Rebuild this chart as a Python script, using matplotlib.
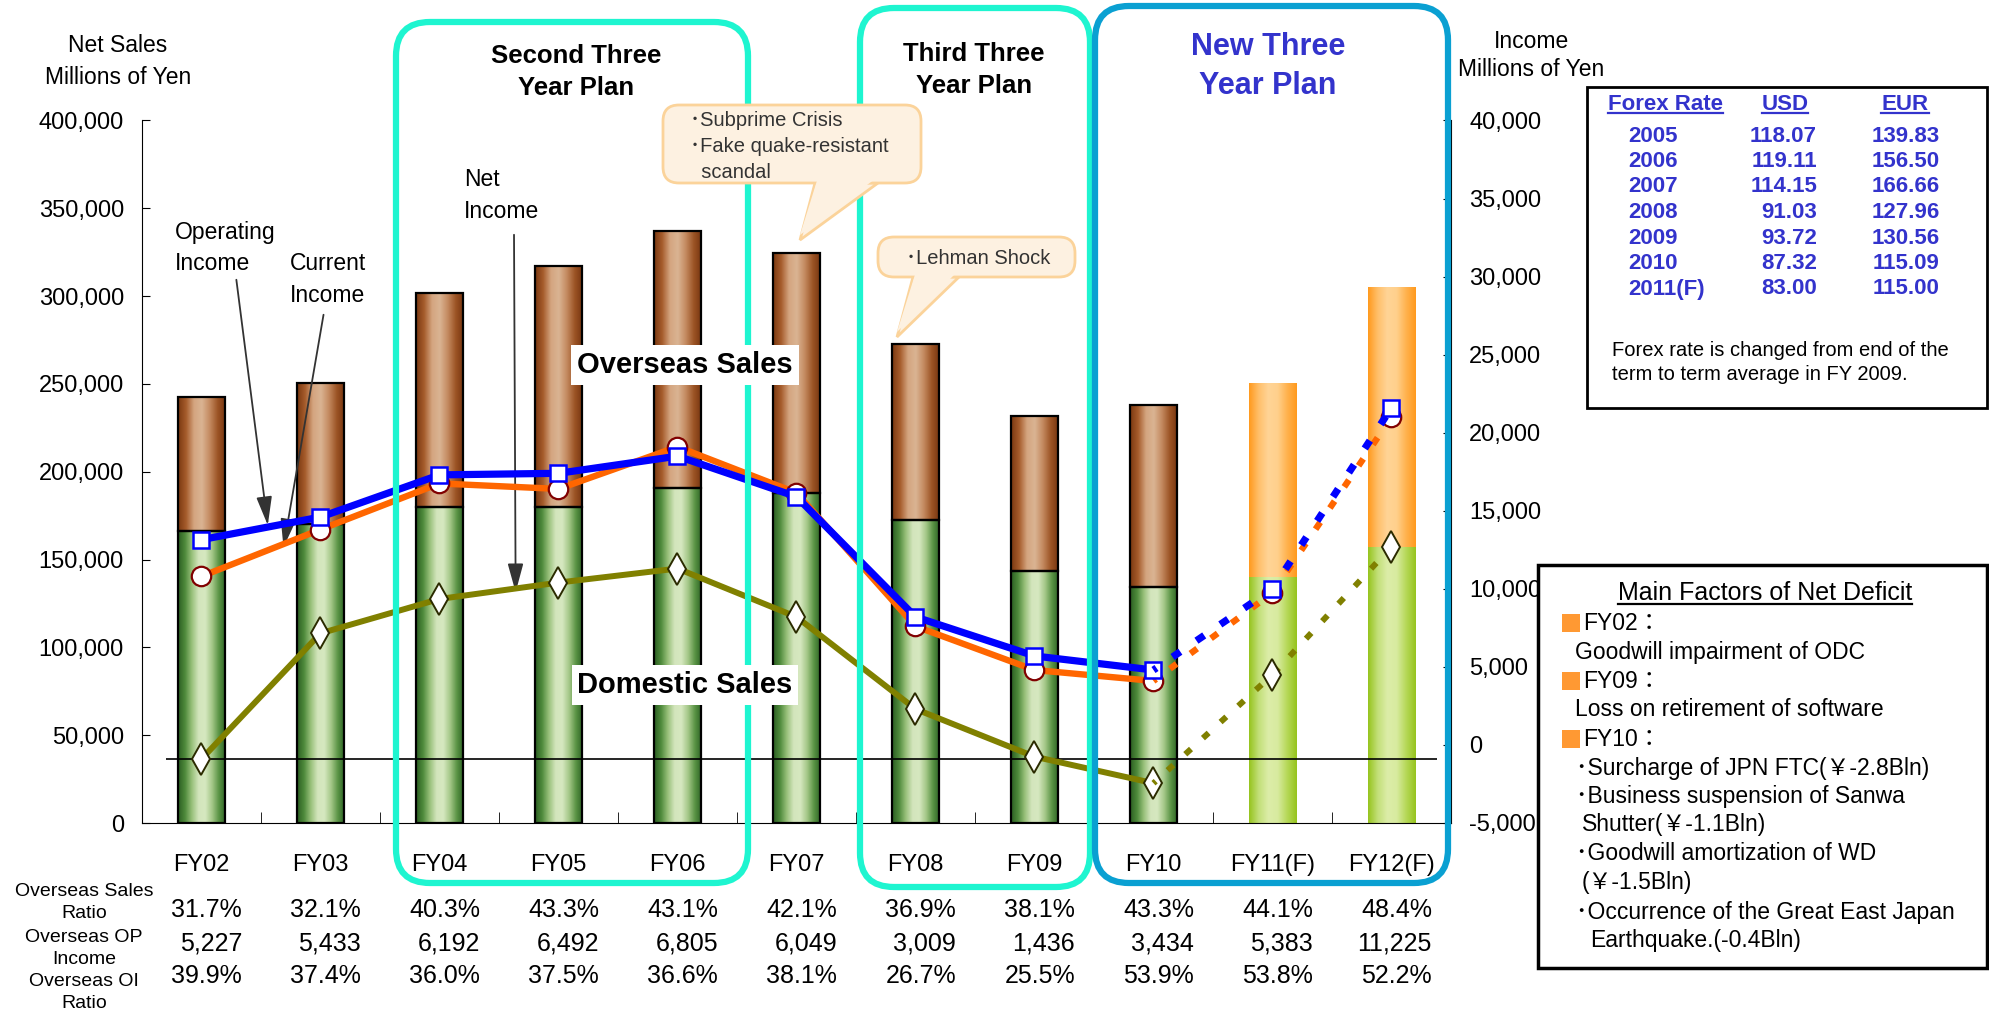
import numpy as np
import matplotlib.pyplot as plt
from matplotlib.colors import LinearSegmentedColormap
from matplotlib.patches import FancyBboxPatch, Polygon, Rectangle
from matplotlib.lines import Line2D
from matplotlib.ticker import MultipleLocator, FixedLocator, FuncFormatter
from matplotlib.transforms import Affine2D, blended_transform_factory

plt.rcParams['font.family'] = ['Liberation Sans', 'Noto Sans CJK JP', 'DejaVu Sans']

# ---- data ----
years = ['FY02', 'FY03', 'FY04', 'FY05', 'FY06', 'FY07', 'FY08', 'FY09', 'FY10', 'FY11(F)', 'FY12(F)']
domestic = [166000, 170000, 180000, 180000, 191000, 188000, 172500, 143500, 134500, 140000, 157200]
overseas = [76500, 80300, 121500, 137000, 146000, 136500, 100500, 88500, 103500, 110300, 147800]
op_income = [13150, 14600, 17300, 17400, 18500, 15900, 8200, 5700, 4800, 10000, 21600]
cur_income = [10800, 13800, 16750, 16400, 19100, 16150, 7600, 4800, 4100, 9750, 21000]
net_income = [-900, 7150, 9350, 10400, 11300, 8200, 2300, -750, -2450, 4500, 12700]
n_actual = 9  # FY02..FY10 are results, the rest forecasts

ovs_sales_ratio = [31.7, 32.1, 40.3, 43.3, 43.1, 42.1, 36.9, 38.1, 43.3, 44.1, 48.4]
ovs_op_income = [5227, 5433, 6192, 6492, 6805, 6049, 3009, 1436, 3434, 5383, 11225]
ovs_oi_ratio = [39.9, 37.4, 36.0, 37.5, 36.6, 38.1, 26.7, 25.5, 53.9, 53.8, 52.2]

fx_years = ['2005', '2006', '2007', '2008', '2009', '2010', '2011(F)']
fx_usd = [118.07, 119.11, 114.15, 91.03, 93.72, 87.32, 83.00]
fx_eur = [139.83, 156.50, 166.66, 127.96, 130.56, 115.09, 115.00]

W, H = 1989, 1013
fig = plt.figure(figsize=(W / 100, H / 100), dpi=100)
# pixel coords measured from the top-left corner
px = Affine2D().scale(0.01, -0.01).translate(0, H * 0.01) + fig.dpi_scale_trans

ax = fig.add_axes([142 / W, 1 - 823 / H, (1451 - 142) / W, (823 - 120.5) / H])
ax2 = ax.twinx()

brown = LinearSegmentedColormap.from_list('b', ['#7a3810', '#a65c2c', '#d4a580', '#dab493', '#c48a60', '#9c5425', '#763510'])
green = LinearSegmentedColormap.from_list('g', ['#2b5e22', '#4e8a3b', '#98c07a', '#d3e5bc', '#d6e8c0', '#a4c788', '#5a9445', '#2c6224'])
orange = LinearSegmentedColormap.from_list('o', ['#ff9a1e', '#ffbf6a', '#ffd496', '#ffd08c', '#ffb24e', '#ff9a1e'])
lime = LinearSegmentedColormap.from_list('l', ['#96c41e', '#c2df78', '#dceda8', '#d8eba0', '#b6d858', '#96c41e'])

x = np.arange(len(years))
bw = 0.4
grad = np.linspace(0, 1, 128)[None, :]
for i in x:
    cm_d = green if i < n_actual else lime
    cm_o = brown if i < n_actual else orange
    ax.imshow(grad, cmap=cm_d, aspect='auto', interpolation='bilinear', zorder=2,
              extent=(i - bw / 2, i + bw / 2, 0, domestic[i]))
    ax.imshow(grad, cmap=cm_o, aspect='auto', interpolation='bilinear', zorder=2,
              extent=(i - bw / 2, i + bw / 2, domestic[i], domestic[i] + overseas[i]))
ax.bar(x[:n_actual], domestic[:n_actual], bw, fill=False, edgecolor='black', lw=1.6, zorder=3)
ax.bar(x[:n_actual], overseas[:n_actual], bw, bottom=domestic[:n_actual], fill=False,
       edgecolor='black', lw=1.6, zorder=3)
ax.hlines(36300, -0.3, 10.38, color='black', lw=1.2, zorder=3)

ax.set_xlim(-0.5, 10.5)
ax.set_ylim(0, 400000)
ax2.set_ylim(-5000, 40000)

# income lines
styles = [
    (op_income, dict(color='#0000ff', lw=5.2), dict(marker='s', ms=11, mfc='white', mec='#0000ff', mew=1.8)),
    (cur_income, dict(color='#ff6600', lw=4.6), dict(marker='o', ms=14, mfc='white', mec='#800000', mew=1.6)),
    (net_income, dict(color='#808000', lw=4.3), dict(marker='d', ms=16, mfc='white', mec='#2b2b00', mew=1.4)),
]
for z, (vals, ls, mk) in enumerate(styles):
    ax2.plot(x[:n_actual], vals[:n_actual], zorder=6 - z, **ls, **mk)
    ax2.plot(x[n_actual - 1:], vals[n_actual - 1:], ls=(0.8, (1.3, 2.7)), zorder=6 - z, **ls)
    ax2.plot(x[n_actual:], vals[n_actual:], ls='none', zorder=6 - z, **mk)

fmt = FuncFormatter(lambda v, p: f'{v:,.0f}')
ax.yaxis.set_major_locator(MultipleLocator(50000))
ax.yaxis.set_major_formatter(fmt)
ax2.yaxis.set_major_locator(MultipleLocator(5000))
ax2.yaxis.set_major_formatter(fmt)
ax.tick_params(axis='y', direction='in', length=6, labelsize=17, pad=13)
ax2.tick_params(axis='y', direction='in', length=6, labelsize=17, pad=13)
ax.set_xticks(x, years)
ax.tick_params(axis='x', length=0, labelsize=17, pad=22)
ax.xaxis.set_minor_locator(FixedLocator(np.arange(0.5, 10, 1)))
ax.tick_params(axis='x', which='minor', direction='in', length=8)
for s in ['top', 'right']:
    ax.spines[s].set_visible(False)
for s in ['top', 'left', 'bottom']:
    ax2.spines[s].set_visible(False)


def ftext(xp, yp, s, **kw):
    kw.setdefault('ha', 'center')
    kw.setdefault('va', 'center')
    return fig.text(xp, yp, s, transform=px, **kw)


# axis titles
ftext(118, 45, 'Net Sales', fontsize=16.5)
ftext(118, 78, 'Millions of Yen', fontsize=16.5)
ftext(1532, 42, 'Income', fontsize=16.5)
ftext(1531, 70, 'Millions of Yen', fontsize=16.5)

# bottom table
bt = blended_transform_factory(ax.transData, px)
for i in x:
    fig.text(i + 0.34, 910, f'{ovs_sales_ratio[i]:.1f}%', transform=bt, ha='right', va='center', fontsize=18)
    fig.text(i + 0.34, 943, f'{ovs_op_income[i]:,}', transform=bt, ha='right', va='center', fontsize=18)
    fig.text(i + 0.34, 976, f'{ovs_oi_ratio[i]:.1f}%', transform=bt, ha='right', va='center', fontsize=18)
ftext(84, 891, 'Overseas Sales', fontsize=14)
ftext(84, 913, 'Ratio', fontsize=14)
ftext(84, 937, 'Overseas OP', fontsize=14)
ftext(84, 960, 'Income', fontsize=14)
ftext(84, 982, 'Overseas OI', fontsize=14)
ftext(84, 1003, 'Ratio', fontsize=14)

# plan frames
frames = [((396, 22), 352, 861, '#1ef5d0'), ((860, 8), 230, 879, '#1ef5d0'), ((1095, 6), 353, 877, '#0aa0d2')]
for (x0, y0), w, h, c in frames:
    fig.add_artist(FancyBboxPatch((x0, y0), w, h, boxstyle='round,pad=0,rounding_size=34',
                                  transform=px, fill=False, ec=c, lw=4.5, zorder=2))
ftext(576, 56, 'Second Three', fontsize=18.5, fontweight='bold')
ftext(576, 88, 'Year Plan', fontsize=18.5, fontweight='bold')
ftext(974, 54, 'Third Three', fontsize=18.5, fontweight='bold')
ftext(974, 86, 'Year Plan', fontsize=18.5, fontweight='bold')
ftext(1268, 47, 'New Three', fontsize=22, fontweight='bold', color='#3333cc')
ftext(1268, 86, 'Year Plan', fontsize=22, fontweight='bold', color='#3333cc')

# sales labels
for yp, s in [(365, 'Overseas Sales'), (685, 'Domestic Sales')]:
    ftext(685, yp, s, fontsize=21, fontweight='bold', zorder=3,
          bbox=dict(boxstyle='square,pad=0.2', fc='white', ec='none'))

# line labels with arrows
ftext(175, 232, 'Operating', fontsize=16.5, ha='left')
ftext(175, 263, 'Income', fontsize=16.5, ha='left')
ftext(290, 263, 'Current', fontsize=16.5, ha='left')
ftext(290, 295, 'Income', fontsize=16.5, ha='left')
ftext(464, 180, 'Net', fontsize=16.5, ha='left')
ftext(464, 212, 'Income', fontsize=16.5, ha='left')
arrow = dict(arrowstyle='-|>,head_length=1.1,head_width=0.3', color='#333333', lw=1.3, mutation_scale=16)
for tip, tail in [((0.56, 168000), (236, 277)), ((0.685, 155400), (324, 312)), ((2.64, 129800), (514, 232))]:
    ax.annotate('', xy=tip, xycoords='data', xytext=tail, textcoords=px, arrowprops=arrow,
                annotation_clip=False, zorder=7)

# callouts
def callout(x0, y0, w, h, tail, lines, xt, yt0, dy):
    fc, ec = '#fdf1e1', '#fbd39a'
    fig.add_artist(Polygon(tail, closed=True, transform=px, fc=fc, ec=ec, lw=2, zorder=4))
    fig.add_artist(FancyBboxPatch((x0, y0), w, h, boxstyle='round,pad=0,rounding_size=16',
                                  transform=px, fc=fc, ec=ec, lw=2, zorder=4))
    (ax_, ay_), (bx_, by_), (cx_, cy_) = tail
    fig.add_artist(Polygon([(ax_ + 2.5, ay_ - 4), (cx_ - 3, cy_ - 4), (bx_, by_ - 5)], closed=True,
                           transform=px, fc=fc, ec='none', zorder=4))
    for k, s in enumerate(lines):
        ftext(xt, yt0 + k * dy, s, fontsize=14.5, ha='left', color='#333333', zorder=5)


callout(663, 105, 258, 78, [(815, 183), (800, 240), (878, 183)],
        ['･Subprime Crisis', '･Fake quake-resistant', '  scandal'], 690, 121, 25.5)
callout(878, 237, 197, 40, [(913, 277), (897, 337), (959, 277)], ['･Lehman Shock'], 906, 258, 0)

# forex table
fig.add_artist(Rectangle((1587, 87), 400, 321, transform=px, fc='white', ec='black', lw=2, zorder=2))
blue = '#3333cc'
heads = [ftext(1666, 104, 'Forex Rate', fontsize=16, fontweight='bold', color=blue),
         ftext(1785, 104, 'USD', fontsize=16, fontweight='bold', color=blue),
         ftext(1905, 104, 'EUR', fontsize=16, fontweight='bold', color=blue)]
for k in range(len(fx_years)):
    yp = 136 + k * 25.5
    ftext(1628, yp, fx_years[k], fontsize=16, fontweight='bold', color=blue, ha='left')
    ftext(1817, yp, f'{fx_usd[k]:.2f}', fontsize=16, fontweight='bold', color=blue, ha='right')
    ftext(1940, yp, f'{fx_eur[k]:.2f}', fontsize=16, fontweight='bold', color=blue, ha='right')
ftext(1612, 350, 'Forex rate is changed from end of the', fontsize=14.5, ha='left')
ftext(1612, 374, 'term to term average in FY 2009.', fontsize=14.5, ha='left')

# main factors box
fig.add_artist(Rectangle((1538, 565), 449, 403, transform=px, fc='white', ec='black', lw=2.5, zorder=2))
title = ftext(1765, 593, 'Main Factors of Net Deficit', fontsize=18)
for yp in (623, 681, 739):
    fig.add_artist(Rectangle((1562, yp - 9), 18, 18, transform=px, fc='#ff9933', ec='none', zorder=3))
factor_lines = [
    (1583, 623, 'FY02：'), (1575, 653, 'Goodwill impairment of ODC'),
    (1583, 681, 'FY09：'), (1575, 710, 'Loss on retirement of software'),
    (1583, 739, 'FY10：'), (1576, 768, '･Surcharge of JPN FTC(￥-2.8Bln)'),
    (1576, 797, '･Business suspension of Sanwa'), (1582, 825, 'Shutter(￥-1.1Bln)'),
    (1576, 854, '･Goodwill amortization of WD'), (1582, 883, '(￥-1.5Bln)'),
    (1576, 912, '･Occurrence of the Great East Japan'), (1590, 940, 'Earthquake.(-0.4Bln)'),
]
for xp, yp, s in factor_lines:
    ftext(xp, yp, s, fontsize=16.5, ha='left', zorder=3)

# underlines
fig.canvas.draw()
r = fig.canvas.get_renderer()
inv = fig.transFigure.inverted()
for t, c in [(h_, blue) for h_ in heads] + [(title, 'black')]:
    bb = t.get_window_extent(r)
    (x0, y0), (x1, _) = inv.transform([(bb.x0, bb.y0 + 1), (bb.x1, bb.y0)])
    fig.add_artist(Line2D([x0, x1], [y0, y0], transform=fig.transFigure, color=c, lw=1.6, zorder=3))

fig.savefig('out.png', dpi=100)
